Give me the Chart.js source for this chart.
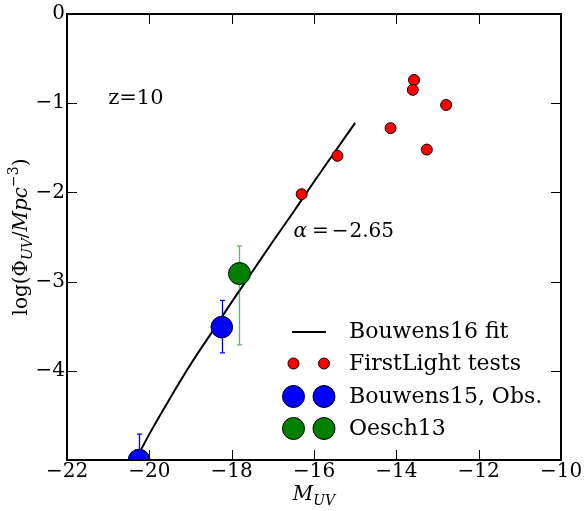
<!DOCTYPE html>
<html><head><meta charset="utf-8">
<script src="https://cdn.jsdelivr.net/npm/chart.js@4"></script>
<style>html,body{margin:0;padding:0;background:#fff}</style>
</head><body>
<canvas id="c" width="587" height="511"></canvas>
<script>
// ---- data ----
const xTicks = [-22, -20, -18, -16, -14, -12, -10];
const xTickLabels = ['\u221222', '\u221220', '\u221218', '\u221216', '\u221214', '\u221212', '\u221210'];
const yTicks = [0, -1, -2, -3, -4, -5];
const yTickLabels = ['0', '\u22121', '\u22122', '\u22123', '\u22124', ''];

const fitM      = [-20.4, -20.0, -19.5, -19.0, -18.5, -18.0, -17.5, -17.0, -16.5, -16.0, -15.5, -15.0];
const fitLogPhi = [-5.06, -4.71, -4.31, -3.93, -3.58, -3.23, -2.89, -2.55, -2.22, -1.88, -1.55, -1.22];

const flM      = [-13.57, -13.60, -12.79, -14.14, -13.26, -15.43, -16.30];
const flLogPhi = [-0.74, -0.85, -1.02, -1.28, -1.52, -1.59, -2.02];

const b15M      = [-20.25, -18.24];
const b15LogPhi = [-5.00, -3.51];
const b15Hi     = [-4.71, -3.21];
const b15Lo     = [-5.30, -3.80];

const o13M      = [-17.81];
const o13LogPhi = [-2.91];
const o13Hi     = [-2.60];
const o13Lo     = [-3.71];

const zLabel = 'z=10';
const alphaValue = '2.65';

// ---- chart ----
const SERIF = '"DejaVu Serif", serif';
const pts = (xs, ys) => xs.map((x, i) => ({x: x, y: ys[i]}));

function drawRun(ctx, parts, x, y, align) {
  let total = 0;
  parts.forEach(p => { ctx.font = p.font; p.w = ctx.measureText(p.t).width; total += p.w + (p.gap || 0); });
  let cx = align === 'center' ? x - total / 2 : x;
  parts.forEach(p => {
    ctx.font = p.font;
    ctx.fillText(p.t, cx, y + (p.dy || 0));
    cx += p.w + (p.gap || 0);
  });
}

const decor = {
  id: 'decor',
  afterDatasetDraw(chart, args) {
    if (args.index !== 3) return;
    const ctx = chart.ctx, xs = chart.scales.x, ys = chart.scales.y, a = chart.chartArea;
    ctx.save();
    ctx.beginPath(); ctx.rect(a.left, a.top, a.right - a.left, a.bottom - a.top); ctx.clip();
    const bars = [
      {m: b15M, hi: b15Hi, lo: b15Lo, c: '#0000ff'},
      {m: o13M, hi: o13Hi, lo: o13Lo, c: 'rgba(0,128,0,0.6)'}
    ];
    bars.forEach(b => {
      ctx.strokeStyle = b.c; ctx.lineWidth = 1.3;
      b.m.forEach((m, i) => {
        const px = Math.round(xs.getPixelForValue(m)) + 0.5;
        const y1 = ys.getPixelForValue(b.hi[i]), y2 = ys.getPixelForValue(b.lo[i]);
        ctx.beginPath();
        ctx.moveTo(px, y1); ctx.lineTo(px, y2);
        ctx.moveTo(px - 2.5, y1); ctx.lineTo(px + 2.5, y1);
        ctx.moveTo(px - 2.5, y2); ctx.lineTo(px + 2.5, y2);
        ctx.stroke();
      });
    });
    ctx.restore();
  },
  afterDatasetsDraw(chart) {
    const ctx = chart.ctx, xs = chart.scales.x, ys = chart.scales.y, a = chart.chartArea;
    ctx.save();
    // inward ticks
    ctx.strokeStyle = '#000'; ctx.lineWidth = 1;
    ctx.beginPath();
    xTicks.forEach(v => {
      const px = Math.round(xs.getPixelForValue(v)) + 0.5;
      ctx.moveTo(px, a.bottom); ctx.lineTo(px, a.bottom - 10);
      ctx.moveTo(px, a.top); ctx.lineTo(px, a.top + 10);
    });
    yTicks.forEach(v => {
      const py = Math.round(ys.getPixelForValue(v)) + 0.5;
      ctx.moveTo(a.left, py); ctx.lineTo(a.left + 10, py);
      ctx.moveTo(a.right, py); ctx.lineTo(a.right - 10, py);
    });
    ctx.stroke();
    // frame
    ctx.lineWidth = 2;
    ctx.strokeRect(a.left, a.top, a.right - a.left, a.bottom - a.top);

    ctx.fillStyle = '#000';
    ctx.textBaseline = 'alphabetic';
    ctx.textAlign = 'left';
    // z label
    ctx.font = '21px ' + SERIF;
    ctx.fillText(zLabel, xs.getPixelForValue(-21.0), ys.getPixelForValue(-1.01));
    // alpha annotation
    const ax = xs.getPixelForValue(-16.5), ay = ys.getPixelForValue(-2.5);
    drawRun(ctx, [
      {t: '\u03b1', font: 'italic 20px ' + SERIF, gap: 5},
      {t: '=', font: '20px ' + SERIF, gap: 3},
      {t: '\u2212', font: '20px ' + SERIF, gap: 1},
      {t: alphaValue, font: '20px ' + SERIF}
    ], ax, ay, 'left');

    // x axis title
    drawRun(ctx, [
      {t: 'M', font: 'italic 20px ' + SERIF, gap: 0},
      {t: 'UV', font: 'italic 14px ' + SERIF, dy: 5}
    ], (a.left + a.right) / 2, 500, 'center');

    // y axis title
    ctx.save();
    ctx.translate(27, (a.top + a.bottom) / 2);
    ctx.rotate(-Math.PI / 2);
    drawRun(ctx, [
      {t: 'log(\u03a6', font: '20px ' + SERIF},
      {t: 'UV', font: 'italic 14px ' + SERIF, dy: 5},
      {t: '/', font: '20px ' + SERIF},
      {t: 'Mpc', font: 'italic 20px ' + SERIF},
      {t: '\u22123', font: '14px ' + SERIF, dy: -9},
      {t: ')', font: '20px ' + SERIF}
    ], 0, 0, 'center');
    ctx.restore();

    // legend
    const m1 = 293.5, m2 = 324, tx = 349;
    const rows = [
      {label: 'Bouwens16 fit', base: 338, kind: 'line'},
      {label: 'FirstLight tests', base: 370, kind: 'pt', r: 5.5, c: '#ff0000'},
      {label: 'Bouwens15, Obs.', base: 403, kind: 'pt', r: 11, c: '#0000ff'},
      {label: 'Oesch13', base: 435, kind: 'pt', r: 11, c: '#008000'}
    ];
    rows.forEach(r => {
      const cy = r.base - 6.5;
      if (r.kind === 'line') {
        ctx.strokeStyle = '#000'; ctx.lineWidth = 2;
        ctx.beginPath(); ctx.moveTo(292, Math.round(cy)); ctx.lineTo(326, Math.round(cy)); ctx.stroke();
      } else {
        [m1, m2].forEach(mx => {
          ctx.beginPath(); ctx.arc(mx, cy, r.r, 0, Math.PI * 2);
          ctx.fillStyle = r.c; ctx.fill();
          ctx.strokeStyle = '#000'; ctx.lineWidth = 1; ctx.stroke();
        });
      }
      ctx.fillStyle = '#000';
      ctx.font = '22px ' + SERIF;
      ctx.fillText(r.label, tx, r.base);
    });
    ctx.restore();
  }
};

new Chart(document.getElementById('c'), {
  type: 'scatter',
  data: {
    datasets: [
      {label: 'Oesch13', data: pts(o13M, o13LogPhi), backgroundColor: '#008000', borderColor: '#000',
       borderWidth: 1, pointRadius: 11, pointHoverRadius: 11, clip: 0},
      {label: 'Bouwens15, Obs.', data: pts(b15M, b15LogPhi), backgroundColor: '#0000ff', borderColor: '#000',
       borderWidth: 1, pointRadius: 10.8, pointHoverRadius: 10.8, clip: 0},
      {label: 'FirstLight tests', data: pts(flM, flLogPhi), backgroundColor: '#ff0000', borderColor: '#000',
       borderWidth: 1, pointRadius: 5.5, pointHoverRadius: 5.5, clip: 0},
      {type: 'line', label: 'Bouwens16 fit', data: pts(fitM, fitLogPhi), borderColor: '#000', borderWidth: 2,
       pointRadius: 0, fill: false, cubicInterpolationMode: 'monotone', clip: 0}
    ]
  },
  options: {
    responsive: false,
    animation: false,
    events: [],
    layout: {padding: {left: 0, right: 26, top: 14, bottom: 0}},
    plugins: {legend: {display: false}, tooltip: {enabled: false}},
    scales: {
      x: {
        type: 'linear', min: -22, max: -10,
        afterBuildTicks: s => { s.ticks = xTicks.map(v => ({value: v})); },
        afterFit: s => { s.height = 51; },
        grid: {display: false, drawTicks: false}, border: {display: false},
        ticks: {font: {family: 'DejaVu Serif', size: 20}, color: '#000', padding: 0,
                maxRotation: 0, autoSkip: false, callback: (v, i) => xTickLabels[i]}
      },
      y: {
        type: 'linear', min: -5, max: 0,
        afterBuildTicks: s => { s.ticks = yTicks.map(v => ({value: v})); },
        afterFit: s => { s.width = 67; },
        grid: {display: false, drawTicks: false}, border: {display: false},
        ticks: {font: {family: 'DejaVu Serif', size: 20}, color: '#000', padding: 2,
                autoSkip: false, callback: (v, i) => yTickLabels[i]}
      }
    }
  },
  plugins: [decor]
});
</script>
</body></html>
